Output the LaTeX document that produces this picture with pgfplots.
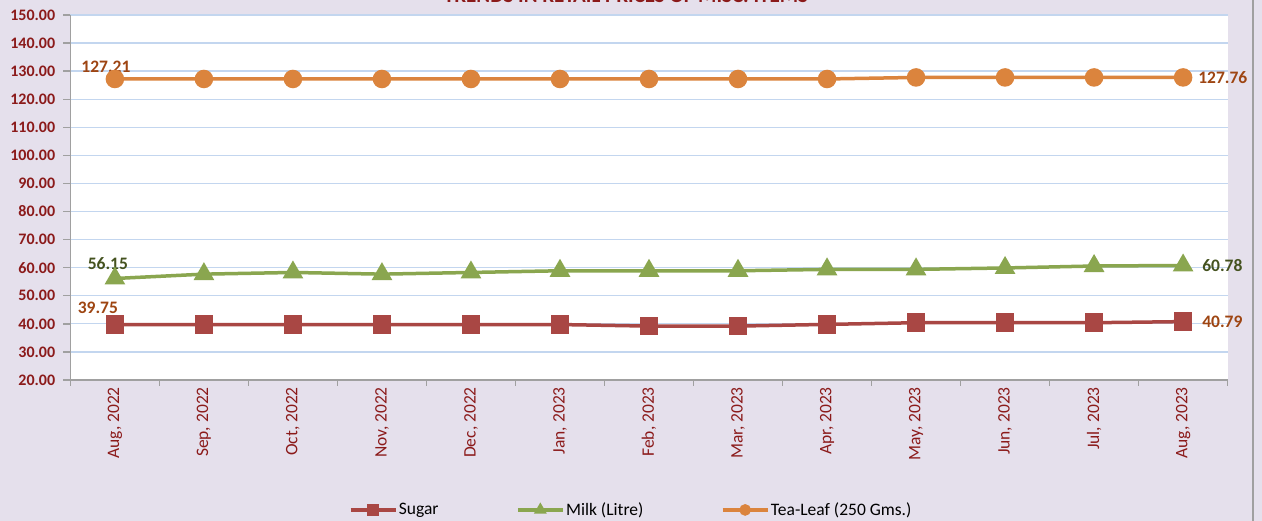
\documentclass[border=0pt]{standalone}
\usepackage{fontspec}
\setmainfont{Carlito}
\usepackage{pgfplots}
\pgfplotsset{compat=1.18}
\definecolor{bg}{HTML}{E5E0EC}
\definecolor{tick}{HTML}{8B1A1A}
\definecolor{sugar}{HTML}{A94744}
\definecolor{milk}{HTML}{8AA64F}
\definecolor{tea}{HTML}{DB843D}
\definecolor{lblorange}{HTML}{9E4512}
\definecolor{lblgreen}{HTML}{44521F}
\definecolor{gridblue}{HTML}{C3D6EF}
\definecolor{axisgray}{HTML}{A0A0A0}
\begin{document}
\begin{tikzpicture}[x=1pt,y=1pt]
\fill[bg] (0,0) rectangle (1262,521);
\draw[line width=1.8pt, color=axisgray] (1253,0) -- (1253,521);
\node[anchor=base, font=\bfseries\fontsize{21}{21}\selectfont, text=tick, inner sep=0] at (626,518.3) {TRENDS IN RETAIL PRICES OF MISC. ITEMS};
\begin{axis}[
  at={(70.4pt,141pt)}, anchor=south west, scale only axis,
  width=1157.2pt, height=365pt,
  xmin=-0.5, xmax=12.5, ymin=20, ymax=150,
  clip=false,
  axis background/.style={fill=white},
  axis lines*=left,
  axis line style={draw=axisgray, line width=1.6pt},
  tick align=outside,
  major tick length=7pt,
  minor tick length=6pt,
  ytick={20,30,...,150},
  ymajorgrids,
  grid style={draw=gridblue, line width=1.3pt},
  ytick style={draw=axisgray, line width=1.4pt},
  xtick={0,...,12},
  xtick style={draw=none},
  minor xtick={-0.5,0.5,...,12.5},
  minor x tick style={draw=axisgray, line width=1.4pt},
  xticklabels={{Aug, 2022},{Sep, 2022},{Oct, 2022},{Nov, 2022},{Dec, 2022},{Jan, 2023},{Feb, 2023},{Mar, 2023},{Apr, 2023},{May, 2023},{Jun, 2023},{Jul, 2023},{Aug, 2023}},
  xticklabel style={rotate=90, anchor=east, font=\fontsize{17.5}{17.5}\selectfont, text=tick, inner sep=0pt, yshift=0pt},
  /pgf/number format/assume math mode=true,
  yticklabel={\pgfmathprintnumber[fixed,fixed zerofill,precision=2]{\tick}},
  yticklabel style={font=\bfseries\fontsize{16}{16}\selectfont, text=tick, inner sep=0pt, xshift=-8pt},
  legend columns=3,
  legend style={at={(0.4844,-0.356)}, anchor=center, draw=none, fill=none,
    font=\fontsize{17.5}{17.5}\selectfont,
    nodes={inner sep=1.5pt},
    /tikz/every even column/.append style={column sep=76pt}},
  legend cell align=left,
  legend image code/.code={\draw[mark repeat=2,mark phase=2,#1,/tikz/mark size=4pt] plot coordinates {(0pt,0pt) (22.5pt,0pt) (45pt,0pt)};},
]
\addplot[color=sugar, line width=3.5pt, mark=square*, mark size=7.5pt, mark options={solid}]
coordinates {(0,39.75)(1,39.75)(2,39.75)(3,39.75)(4,39.75)(5,39.75)(6,39.2)(7,39.2)(8,39.8)(9,40.4)(10,40.4)(11,40.4)(12,40.79)};
\addlegendentry{Sugar}
\addplot[color=milk, line width=3.5pt, mark=triangle*, mark size=8.5pt, mark options={solid}]
coordinates {(0,56.15)(1,57.7)(2,58.3)(3,57.7)(4,58.3)(5,58.9)(6,58.9)(7,58.9)(8,59.4)(9,59.4)(10,59.9)(11,60.6)(12,60.78)};
\addlegendentry{Milk (Litre)}
\addplot[color=tea, line width=3.5pt, mark=*, mark size=7.5pt, mark options={solid}]
coordinates {(0,127.21)(1,127.21)(2,127.21)(3,127.21)(4,127.21)(5,127.21)(6,127.21)(7,127.21)(8,127.21)(9,127.76)(10,127.76)(11,127.76)(12,127.76)};
\addlegendentry{Tea-Leaf (250 Gms.)}
\node[anchor=base, font=\bfseries\fontsize{17.5}{17.5}\selectfont, text=lblorange, inner sep=0] at (axis cs:0,127.21) [xshift=-9pt, yshift=6pt] {127.21};
\node[anchor=west, font=\bfseries\fontsize{17.5}{17.5}\selectfont, text=lblorange, inner sep=0] at (axis cs:12,127.76) [xshift=15pt] {127.76};
\node[anchor=base, font=\bfseries\fontsize{17.5}{17.5}\selectfont, text=lblgreen, inner sep=0] at (axis cs:0,56.15) [xshift=-7pt, yshift=9pt] {56.15};
\node[anchor=west, font=\bfseries\fontsize{17.5}{17.5}\selectfont, text=lblgreen, inner sep=0] at (axis cs:12,60.78) [xshift=19pt] {60.78};
\node[anchor=base, font=\bfseries\fontsize{17.5}{17.5}\selectfont, text=lblorange, inner sep=0] at (axis cs:0,39.75) [xshift=-17pt, yshift=11pt] {39.75};
\node[anchor=west, font=\bfseries\fontsize{17.5}{17.5}\selectfont, text=lblorange, inner sep=0] at (axis cs:12,40.79) [xshift=19pt] {40.79};
\end{axis}
\pgfresetboundingbox
\useasboundingbox (0,0) rectangle (1262,521);
\end{tikzpicture}
\end{document}
